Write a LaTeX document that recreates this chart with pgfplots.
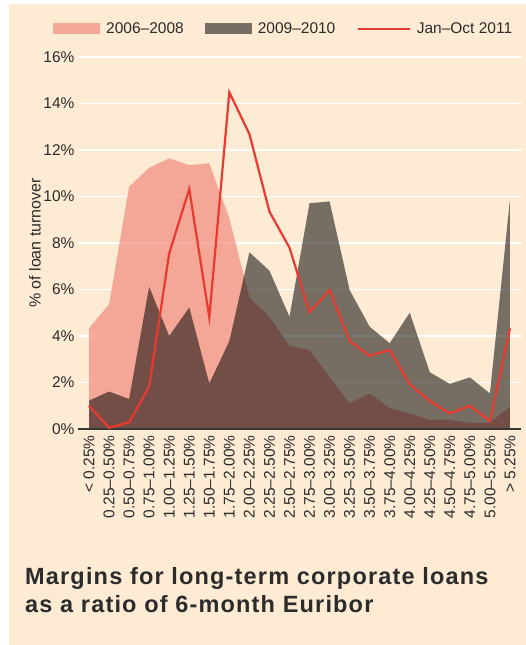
\documentclass[border=0pt]{standalone}
\usepackage{fontspec}
\setmainfont{Liberation Sans}
\usepackage{pgfplots}
\pgfplotsset{compat=1.18}
\definecolor{bgc}{HTML}{FDEBD4}
\definecolor{pinkc}{RGB}{243,139,126}
\definecolor{pinkleg}{HTML}{F6A898}
\definecolor{grayleg}{HTML}{766E64}
\definecolor{redc}{HTML}{E83A2F}
\definecolor{txt}{HTML}{2B2B2B}
\pgfplotstableread{
x p g r
0 4.33 1.22 1.00
1 5.36 1.61 0.05
2 10.42 1.29 0.29
3 11.24 6.12 1.82
4 11.64 4.00 7.55
5 11.35 5.23 10.32
6 11.43 1.96 4.80
7 9.06 3.78 14.48
8 5.66 7.60 12.69
9 4.83 6.81 9.35
10 3.57 4.83 7.80
11 3.40 9.71 5.02
12 2.25 9.79 5.98
13 1.10 5.98 3.78
14 1.53 4.40 3.15
15 0.89 3.69 3.40
16 0.67 5.00 1.92
17 0.39 2.44 1.20
18 0.39 1.94 0.67
19 0.27 2.22 1.00
20 0.27 1.53 0.34
21 0.96 9.88 4.33
}\datatable
\begin{document}
\begin{tikzpicture}
\useasboundingbox (0,0) rectangle (526pt,-645pt);
\fill[white] (0,0) rectangle (526pt,-645pt);
\fill[bgc] (9pt,-4pt) rectangle (526pt,-645pt);
\begin{axis}[
  at={(78pt,-429pt)}, anchor=south west,
  scale only axis, width=443pt, height=372pt,
  xmin=-0.55, xmax=21.55, ymin=0, ymax=16,
  axis line style={draw=none},
  major tick length=0pt,
  ytick={0,2,...,16},
  yticklabel={\pgfmathprintnumber{\tick}\%},
  /pgf/number format/assume math mode=true,
  xtick={0,...,21},
  xticklabels={< 0.25\%,0.25–0.50\%,0.50–0.75\%,0.75–1.00\%,1.00–1.25\%,1.25–1.50\%,1.50–1.75\%,1.75–2.00\%,2.00–2.25\%,2.25–2.50\%,2.50–2.75\%,2.75–3.00\%,3.00–3.25\%,3.25–3.50\%,3.50–3.75\%,3.75–4.00\%,4.00–4.25\%,4.25–4.50\%,4.50–4.75\%,4.75–5.00\%,5.00–5.25\%,> 5.25\%},
  tick label style={font=\fontsize{15.5}{18}\selectfont, text=txt},
  xticklabel style={rotate=90, anchor=east},
  xticklabel shift=3pt,
  ymajorgrids, grid style={white, line width=1.5pt},
  ylabel={\% of loan turnover},
  ylabel style={at={(axis description cs:-0.097,0.5)}, anchor=center, font=\fontsize{16}{18}\selectfont, text=txt},
  legend columns=3,
  legend style={at={(axis description cs:-0.0564,1.0753)}, anchor=west, draw=none, fill=none, inner sep=0pt,
    font=\fontsize{15.5}{18}\selectfont, text=txt,
    nodes={inner sep=0pt},
    /tikz/every odd column/.append style={column sep=6pt},
    /tikz/every even column/.append style={column sep=21pt}},
  clip=false,
]
\addplot[fill=pinkc, fill opacity=0.7, draw=none,
  legend image code/.code={\fill[pinkleg, fill opacity=1] (0pt,-5.5pt) rectangle (47pt,5.5pt);}]
  table[x=x, y=p] {\datatable} \closedcycle;
\addlegendentry{2006–2008}
\addplot[fill=black, fill opacity=0.53, draw=none,
  legend image code/.code={\fill[grayleg, fill opacity=1] (0pt,-5.5pt) rectangle (47pt,5.5pt);}]
  table[x=x, y=g] {\datatable} \closedcycle;
\addlegendentry{2009–2010}
\addplot[black!78, line width=1.3pt, forget plot] coordinates {(-0.55,0) (21.55,0)};
\addplot[redc, line width=2.2pt, line join=miter,
  legend image code/.code={\draw[redc, line width=2.4pt] (0pt,0pt) -- (52pt,0pt);}]
  table[x=x, y=r] {\datatable};
\addlegendentry{Jan–Oct 2011}
\end{axis}
\node[anchor=base west, inner sep=0pt, font=\fontsize{23.5}{28}\selectfont\bfseries\addfontfeature{LetterSpace=5}, text=txt] at (25pt,-584.3pt) {Margins for long-term corporate loans};
\node[anchor=base west, inner sep=0pt, font=\fontsize{23.5}{28}\selectfont\bfseries\addfontfeature{LetterSpace=5}, text=txt] at (25pt,-612.7pt) {as a ratio of 6-month Euribor};
\end{tikzpicture}
\end{document}
